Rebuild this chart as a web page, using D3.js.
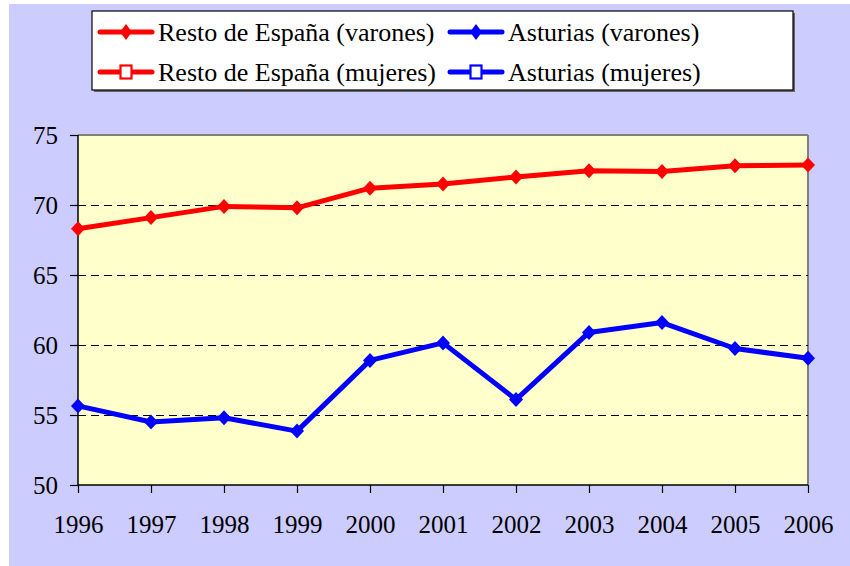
<!DOCTYPE html>
<html><head><meta charset="utf-8">
<script src="https://cdn.jsdelivr.net/npm/d3@7"></script>
<style>body{margin:0;background:#fff;} svg{display:block;}</style>
</head><body>
<svg id="c" width="850" height="566"></svg>
<script>
const years = [1996,1997,1998,1999,2000,2001,2002,2003,2004,2005,2006];
const restoVarones = [68.3,69.1,69.9,69.8,71.2,71.5,72.0,72.45,72.4,72.8,72.85];
const asturiasVarones = [55.65,54.5,54.8,53.85,58.9,60.15,56.1,60.9,61.6,59.75,59.05];
const yTicks = [50,55,60,65,70,75];
const legendItems = [
  {label:"Resto de España (varones)", color:"#FF0000", marker:"diamond"},
  {label:"Asturias (varones)", color:"#0000FF", marker:"diamond"},
  {label:"Resto de España (mujeres)", color:"#FF0000", marker:"square"},
  {label:"Asturias (mujeres)", color:"#0000FF", marker:"square"}
];

const FONT = "Liberation Serif, Tinos, Times New Roman, serif";
const svg = d3.select("#c").style("font-family", FONT);
svg.append("rect").attr("x",9).attr("y",4).attr("width",841).attr("height",562).attr("fill","#CCCCFF");

const x = d3.scaleLinear().domain([1996,2006]).range([78,808]);
const y = d3.scaleLinear().domain([50,75]).range([485,135]);

// plot area
svg.append("rect").attr("x",78).attr("y",135).attr("width",730).attr("height",350).attr("fill","#FFFFCC");
svg.append("line").attr("x1",78).attr("x2",808).attr("y1",135).attr("y2",135).attr("stroke","#808080").attr("stroke-width",2);
svg.append("line").attr("x1",808).attr("x2",808).attr("y1",135).attr("y2",485).attr("stroke","#808080").attr("stroke-width",2);

// grid
svg.append("g").selectAll("line").data(yTicks.filter(d=>d>50&&d<75)).join("line")
  .attr("x1",78).attr("x2",808).attr("y1",d=>y(d)+0.5).attr("y2",d=>y(d)+0.5)
  .attr("stroke","#000").attr("stroke-width",1).attr("stroke-dasharray","8,5");

// axes
const yAxis = d3.axisLeft(y).tickValues(yTicks).tickSize(8).tickPadding(12).tickFormat(d3.format("d"));
const gy = svg.append("g").attr("transform","translate(78,0)").call(yAxis);
const xAxis = d3.axisBottom(x).tickValues(years).tickSize(8).tickPadding(22).tickFormat(d3.format("d"));
const gx = svg.append("g").attr("transform","translate(0,485)").call(xAxis);
[gx,gy].forEach(g=>{
  g.attr("font-family",null).attr("font-size",null);
  g.select(".domain").attr("stroke","#000").attr("stroke-width",1.5);
  g.selectAll(".tick line").attr("stroke","#000").attr("stroke-width",1.2);
  g.selectAll(".tick text").style("font-family",FONT).style("font-size","25px").attr("fill","#000");
});
gy.select(".domain").attr("d","M0,135V485");
gx.select(".domain").attr("d","M78,0H808");

function diamondPath(w,h){ return `M0,${-h}L${w},0L0,${h}L${-w},0Z`; }
function drawSeries(vals,color){
  const line = d3.line().x((d,i)=>x(years[i])).y(d=>y(d));
  svg.append("path").datum(vals).attr("d",line).attr("fill","none").attr("stroke",color).attr("stroke-width",5).attr("stroke-linejoin","round");
  svg.append("g").selectAll("path").data(vals).join("path")
    .attr("d",diamondPath(7,7.5))
    .attr("transform",(d,i)=>`translate(${x(years[i])},${y(d)})`)
    .attr("fill",color);
}
drawSeries(restoVarones,"#FF0000");
drawSeries(asturiasVarones,"#0000FF");

// legend
svg.append("rect").attr("x",94).attr("y",13).attr("width",701).attr("height",79).attr("fill","#666");
svg.append("rect").attr("x",92).attr("y",11).attr("width",701).attr("height",79).attr("fill","#fff").attr("stroke","#000").attr("stroke-width",1.2);
const colX = [100,450], rowY = [32,72];
legendItems.forEach((it,i)=>{
  const cx = colX[i%2], cy = rowY[Math.floor(i/2)];
  const g = svg.append("g");
  g.append("line").attr("x1",cx).attr("x2",cx+52).attr("y1",cy).attr("y2",cy).attr("stroke",it.color).attr("stroke-width",5).attr("stroke-linecap","round");
  if(it.marker==="diamond"){
    g.append("path").attr("d",diamondPath(6,8)).attr("transform",`translate(${cx+26},${cy})`).attr("fill",it.color);
  } else {
    g.append("rect").attr("x",cx+26-5.5).attr("y",cy-6.5).attr("width",11).attr("height",13).attr("fill","#fff").attr("stroke",it.color).attr("stroke-width",2.2);
  }
  g.append("text").attr("x",cx+58).attr("y",cy).attr("dy","0.35em")
    .style("font-family",FONT).style("font-size","26px").attr("fill","#000").text(it.label);
});
</script>
</body></html>
